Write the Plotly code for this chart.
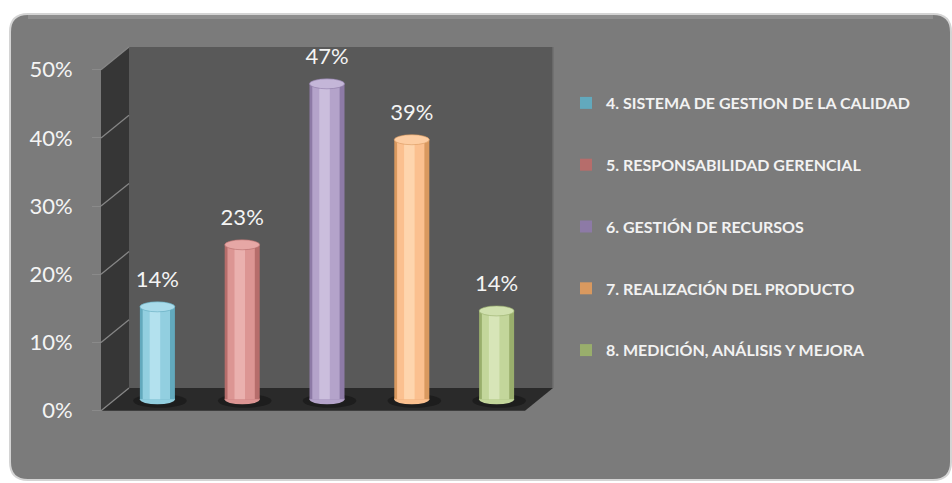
import plotly.graph_objects as go

# ---------------- data ----------------
categories = [
    "4. SISTEMA DE GESTION DE LA CALIDAD",
    "5. RESPONSABILIDAD GERENCIAL",
    "6. GESTIÓN DE RECURSOS",
    "7. REALIZACIÓN DEL PRODUCTO",
    "8. MEDICIÓN, ANÁLISIS Y MEJORA",
]
values = [0.143, 0.234, 0.470, 0.388, 0.137]
y_ticks = [0.0, 0.1, 0.2, 0.3, 0.4, 0.5]

# ---------------- styles ----------------
edge_colors = ["#62a9bd", "#b66d6b", "#8d7aa6", "#d9995f", "#99ae6c"]
base_colors = ["#92cfe0", "#dc9593", "#b4a3ca", "#fbc08f", "#c3d69b"]
light_colors = ["#b3e1ee", "#eab0ae", "#cbbedd", "#fed5ad", "#d7e5b8"]
top_colors = ["#a9dbea", "#e6a7a5", "#c4b6d8", "#fdcda2", "#d0e0ae"]

W, H = 952, 483


def px(x):
    return x / W


def py(y):
    return 1 - y / H


# 3D frame geometry (pixels)
BL, BR, BT, BB = 129, 553, 47, 388          # back wall
DX, DY = 28, 22.7                           # depth offset
PPU = (BB - BT) / 0.5                       # pixels per unit value
MID_Y0 = BB + DY / 2                        # zero line at bar depth
E = 5 / PPU                                 # ellipse half height (data units)
BAR_W = 0.413

fig = go.Figure()

# bars (cylinders) on x2/y2
for i, (cat, v) in enumerate(zip(categories, values)):
    g = str(i)
    fig.add_trace(go.Bar(
        x=[i], y=[v - E], width=BAR_W, name=cat, legendgroup=g,
        marker=dict(color=edge_colors[i], line=dict(width=0)),
        xaxis="x2", yaxis="y2", cliponaxis=False, showlegend=True,
    ))
    fig.add_trace(go.Bar(
        x=[i], y=[v - E], width=BAR_W * 0.78, offset=-BAR_W * 0.42,
        marker=dict(color=base_colors[i], line=dict(width=0)),
        xaxis="x2", yaxis="y2", cliponaxis=False, showlegend=False, legendgroup=g,
    ))
    fig.add_trace(go.Bar(
        x=[i], y=[v - E], width=BAR_W * 0.3, offset=-BAR_W * 0.22,
        marker=dict(color=light_colors[i], line=dict(width=0)),
        xaxis="x2", yaxis="y2", cliponaxis=False, showlegend=False, legendgroup=g,
    ))

# data labels
fig.add_trace(go.Scatter(
    x=list(range(len(values))),
    y=[v + 20 / PPU for v in values],
    text=[f"{round(v * 100)}%" for v in values],
    mode="text", textposition="middle center",
    textfont=dict(family="Lato", size=22, color="#f4f4f4"),
    xaxis="x2", yaxis="y2", showlegend=False, cliponaxis=False, hoverinfo="skip",
))

# invisible trace to activate the front value axis
fig.add_trace(go.Scatter(x=[None], y=[None], xaxis="x", yaxis="y3",
                         showlegend=False, hoverinfo="skip"))

shapes = []
# panel
r = 18
x0p, x1p, y0p, y1p = 10, 951, 14, 480
panel_path = (
    f"M {px(x0p)},{py(y0p + r)} Q {px(x0p)},{py(y0p)} {px(x0p + r)},{py(y0p)} "
    f"L {px(x1p - r)},{py(y0p)} Q {px(x1p)},{py(y0p)} {px(x1p)},{py(y0p + r)} "
    f"L {px(x1p)},{py(y1p - r)} Q {px(x1p)},{py(y1p)} {px(x1p - r)},{py(y1p)} "
    f"L {px(x0p + r)},{py(y1p)} Q {px(x0p)},{py(y1p)} {px(x0p)},{py(y1p - r)} Z"
)
shapes.append(dict(type="path", path=panel_path, xref="paper", yref="paper",
                   fillcolor="#7b7b7b", line=dict(color="#d4d4d4", width=2), layer="below"))
# top bevel band of the panel
shapes.append(dict(type="line", xref="paper", yref="paper",
                   x0=px(x0p + r), x1=px(x1p - r), y0=py(y0p + 3), y1=py(y0p + 3),
                   line=dict(color="#8e8e8e", width=4), layer="below"))
# back wall
shapes.append(dict(type="rect", xref="paper", yref="paper",
                   x0=px(BL), x1=px(BR), y0=py(BB), y1=py(BT),
                   fillcolor="#595959", line=dict(width=0), layer="below"))
# side wall
FL = BL - DX
shapes.append(dict(type="path", xref="paper", yref="paper",
                   path=f"M {px(FL)},{py(BT + DY)} L {px(BL)},{py(BT)} L {px(BL)},{py(BB)} L {px(FL)},{py(BB + DY)} Z",
                   fillcolor="#363636", line=dict(width=0), layer="below"))
# floor
shapes.append(dict(type="path", xref="paper", yref="paper",
                   path=f"M {px(FL)},{py(BB + DY)} L {px(BL)},{py(BB)} L {px(BR)},{py(BB)} L {px(BR - DX)},{py(BB + DY)} Z",
                   fillcolor="#2a2a2a", line=dict(width=0), layer="below"))
# side wall gridlines
for t in y_ticks:
    fy = BB + DY - t * PPU
    by = BB - t * PPU
    shapes.append(dict(type="line", xref="paper", yref="paper",
                       x0=px(FL), y0=py(fy), x1=px(BL), y1=py(by),
                       line=dict(color="#868686", width=1.3), layer="below"))
# back wall right edge
shapes.append(dict(type="line", xref="paper", yref="paper",
                   x0=px(BR), y0=py(BT), x1=px(BR), y1=py(BB),
                   line=dict(color="#6e6e6e", width=1.5), layer="below"))

# cylinder shadows, bottoms and tops
for i, v in enumerate(values):
    shapes.append(dict(type="circle", xref="x2", yref="y2",
                       x0=i - BAR_W / 2 - 0.08, x1=i + BAR_W / 2 + 0.14,
                       y0=-E * 1.7, y1=E * 1.1,
                       fillcolor="rgba(25,25,25,0.75)", line=dict(width=0), layer="below"))
    shapes.append(dict(type="circle", xref="x2", yref="y2",
                       x0=i - BAR_W / 2, x1=i + BAR_W / 2, y0=-E, y1=E,
                       fillcolor=base_colors[i], line=dict(width=0), layer="below"))
    shapes.append(dict(type="circle", xref="x2", yref="y2",
                       x0=i - BAR_W / 2, x1=i + BAR_W / 2, y0=v - 2 * E, y1=v,
                       fillcolor=top_colors[i], line=dict(color=edge_colors[i], width=0.6),
                       layer="above"))

fig.update_layout(
    width=W, height=H,
    margin=dict(l=0, r=0, t=0, b=0, pad=0, autoexpand=False),
    paper_bgcolor="white",
    plot_bgcolor="rgba(0,0,0,0)",
    barmode="overlay",
    hovermode=False,
    shapes=shapes,
    xaxis=dict(domain=[px(BL), px(BR)], range=[-0.5, 4.5], visible=False, anchor="y"),
    yaxis=dict(domain=[py(BB), py(BT)], range=[0, 0.5], dtick=0.1, tick0=0,
               showgrid=True, gridcolor="#868686", gridwidth=1.3,
               showticklabels=False, zeroline=False, ticks="", anchor="x"),
    xaxis2=dict(domain=[px(BL - DX / 2), px(BR - DX / 2)], range=[-0.5, 4.5],
                visible=False, anchor="y2"),
    yaxis2=dict(domain=[py(MID_Y0 + 0.03 * PPU), py(MID_Y0 - 0.5 * PPU)],
                range=[-0.03, 0.5], visible=False, anchor="x2"),
    yaxis3=dict(domain=[py(BB + DY), py(BT + DY)], range=[0, 0.5],
                tickvals=y_ticks, tickformat=".0%",
                anchor="free", position=px(FL), side="left",
                showgrid=False, zeroline=False, showline=False, automargin=False,
                ticks="outside", ticklen=9, tickcolor="#8a8a8a", tickwidth=1.3,
                ticklabelstandoff=15,
                tickfont=dict(family="Lato", size=22, color="#f4f4f4")),
    legend=dict(x=px(566), xanchor="left", y=py(86), yanchor="top",
                bgcolor="rgba(0,0,0,0)", itemwidth=30, tracegroupgap=38,
                traceorder="grouped",
                font=dict(family="Lato", size=16, color="#f2f2f2", weight="bold")),
    showlegend=True,
)

fig.write_html("out.html")
